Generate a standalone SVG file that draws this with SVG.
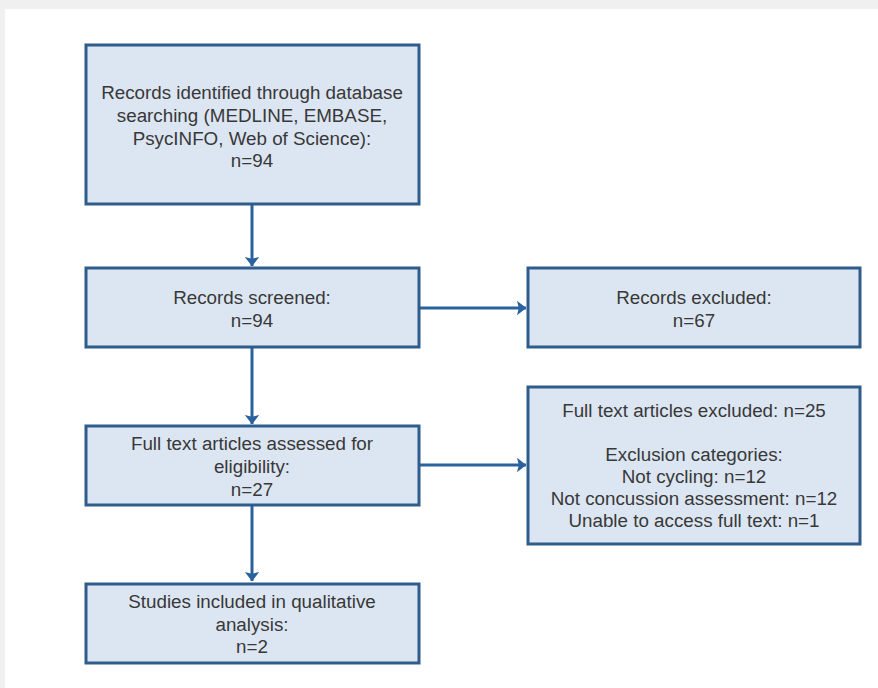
<svg xmlns="http://www.w3.org/2000/svg" width="878" height="688" viewBox="0 0 878 688">
<style>
.box{fill:#dce6f2;stroke:#2f5d8b;stroke-width:3}
.t{font-family:"Liberation Sans",Arial,sans-serif;font-size:18.8px;fill:#383838;text-anchor:middle}
.c{stroke:#2a62a0;stroke-width:3;fill:none}
</style>
<defs>
<marker id="ah" markerWidth="5" markerHeight="5" refX="3" refY="2.4" orient="auto" markerUnits="strokeWidth">
<path d="M0,0 L3.1,2.4 L0,4.8 L0.6,2.4 Z" fill="#2a62a0"/>
</marker>
</defs>
<rect x="0" y="0" width="878" height="688" fill="#f0f0f0"/>
<rect x="5" y="9" width="873" height="679" fill="#ffffff"/>
<g id="connectors">
<line class="c" x1="252" y1="205" x2="252" y2="266" marker-end="url(#ah)"/>
<line class="c" x1="252" y1="348" x2="252" y2="424" marker-end="url(#ah)"/>
<line class="c" x1="252" y1="506" x2="252" y2="581" marker-end="url(#ah)"/>
<line class="c" x1="420" y1="308" x2="526" y2="308" marker-end="url(#ah)"/>
<line class="c" x1="420" y1="465" x2="526" y2="465" marker-end="url(#ah)"/>
</g>
<g id="identified">
<rect class="box" x="86" y="45" width="333" height="159"/>
<text class="t" x="252" y="99">Records identified through database</text>
<text class="t" x="252" y="122">searching (MEDLINE, EMBASE,</text>
<text class="t" x="252" y="145">PsycINFO, Web of Science):</text>
<text class="t" x="252" y="167">n=94</text>
</g>
<g id="screened">
<rect class="box" x="86" y="268" width="333" height="79"/>
<text class="t" x="252" y="304">Records screened:</text>
<text class="t" x="252" y="327">n=94</text>
</g>
<g id="excluded">
<rect class="box" x="528" y="268" width="332" height="79"/>
<text class="t" x="694" y="304">Records excluded:</text>
<text class="t" x="694" y="327">n=67</text>
</g>
<g id="assessed">
<rect class="box" x="86" y="426" width="333" height="79"/>
<text class="t" x="252" y="450">Full text articles assessed for</text>
<text class="t" x="252" y="473">eligibility:</text>
<text class="t" x="252" y="496">n=27</text>
</g>
<g id="fulltext-excluded">
<rect class="box" x="528" y="387" width="332" height="157"/>
<text class="t" x="694" y="417">Full text articles excluded: n=25</text>
<text class="t" x="694" y="461">Exclusion categories:</text>
<text class="t" x="694" y="483">Not cycling: n=12</text>
<text class="t" x="694" y="505">Not concussion assessment: n=12</text>
<text class="t" x="694" y="527">Unable to access full text: n=1</text>
</g>
<g id="included">
<rect class="box" x="86" y="584" width="333" height="79"/>
<text class="t" x="252" y="608">Studies included in qualitative</text>
<text class="t" x="252" y="631">analysis:</text>
<text class="t" x="252" y="653">n=2</text>
</g>
</svg>
